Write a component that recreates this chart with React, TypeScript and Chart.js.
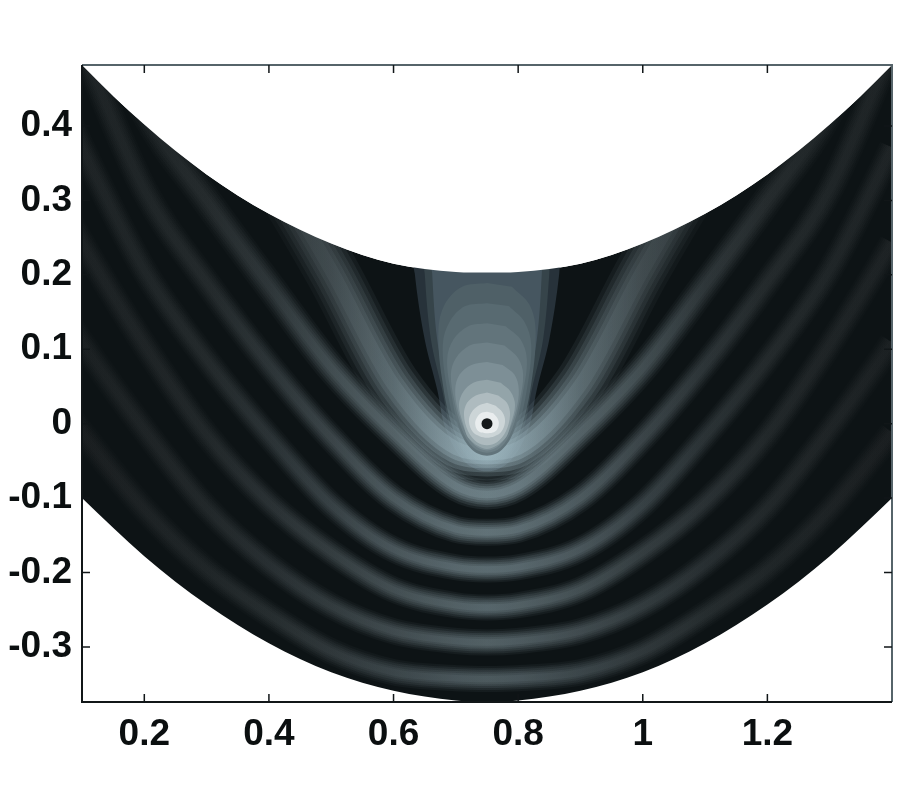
import React, { useEffect, useRef } from "react";
import { Chart, registerables } from "chart.js";

Chart.register(...registerables);

const gridX = [0.02, 0.1, 0.2, 0.3, 0.4, 0.5, 0.6, 0.7, 0.75, 0.8, 0.9, 1.0, 1.1, 1.2, 1.3, 1.4, 1.48];
const xTicks = [0.2, 0.4, 0.6, 0.8, 1, 1.2];
const yTicks = [-0.3, -0.2, -0.1, 0, 0.1, 0.2, 0.3, 0.4];

const upperBoundary = [0.557, 0.482, 0.402, 0.335, 0.282, 0.242, 0.215, 0.204, 0.203, 0.204, 0.215, 0.242, 0.282, 0.335, 0.402, 0.482, 0.557];
const lowerBoundary = [-0.035, -0.1, -0.178, -0.243, -0.295, -0.334, -0.359, -0.372, -0.374, -0.372, -0.359, -0.334, -0.295, -0.243, -0.178, -0.1, -0.035];

const ridge1 = [0.91, 0.77, 0.62, 0.475, 0.347, 0.206, 0.052, -0.033, -0.04, -0.033, 0.052, 0.206, 0.347, 0.475, 0.62, 0.77, 0.91];
const ridge2 = [0.8, 0.622, 0.421, 0.3, 0.186, 0.075, -0.012, -0.084, -0.095, -0.084, -0.012, 0.075, 0.186, 0.3, 0.421, 0.622, 0.8];
const ridge3 = [0.678, 0.508, 0.314, 0.19, 0.079, -0.019, -0.1, -0.142, -0.146, -0.142, -0.1, -0.019, 0.079, 0.19, 0.314, 0.508, 0.678];
const ridge4 = [0.521, 0.371, 0.206, 0.086, -0.017, -0.109, -0.169, -0.193, -0.196, -0.193, -0.169, -0.109, -0.017, 0.086, 0.206, 0.371, 0.521];
const ridge5 = [0.368, 0.243, 0.106, -0.015, -0.106, -0.173, -0.223, -0.244, -0.247, -0.244, -0.223, -0.173, -0.106, -0.015, 0.106, 0.243, 0.368];
const ridge6 = [0.214, 0.109, -0.008, -0.113, -0.189, -0.245, -0.279, -0.292, -0.294, -0.292, -0.279, -0.245, -0.189, -0.113, -0.008, 0.109, 0.214];
const ridge7 = [0.078, -0.012, -0.115, -0.196, -0.256, -0.306, -0.334, -0.342, -0.343, -0.342, -0.334, -0.306, -0.256, -0.196, -0.115, -0.012, 0.078];
const ridges = [ridge1, ridge2, ridge3, ridge4, ridge5, ridge6, ridge7];

const peak1 = [38, 38, 42, 48, 60, 82, 118, 172, 188, 172, 118, 82, 60, 48, 42, 38, 38];
const peak2 = [38, 38, 40, 46, 58, 84, 108, 134, 140, 134, 108, 84, 58, 46, 40, 38, 38];
const peak3 = [38, 38, 40, 44, 56, 74, 98, 120, 126, 120, 98, 74, 56, 44, 40, 38, 38];
const peak4 = [38, 38, 40, 44, 54, 70, 94, 114, 118, 114, 94, 70, 54, 44, 40, 38, 38];
const peak5 = [36, 36, 38, 42, 52, 66, 86, 106, 112, 106, 86, 66, 52, 42, 38, 36, 36];
const peak6 = [34, 34, 38, 42, 50, 64, 82, 100, 106, 100, 82, 64, 50, 42, 38, 34, 34];
const peak7 = [32, 32, 36, 40, 48, 60, 76, 94, 98, 94, 76, 60, 48, 40, 36, 32, 32];
const peaks = [peak1, peak2, peak3, peak4, peak5, peak6, peak7];
const ridgeWidths = [54, 30, 27, 26, 26, 26, 26];

const centerX = 0.75;
const centerY = 0;
const contourDx = [
  [0, 0.116, 0.116, 0.1, 0.08, 0.066, 0.036, 0],
  [0, 0.1, 0.1, 0.09, 0.072, 0.058, 0.032, 0],
  [0, 0.088, 0.088, 0.08, 0.064, 0.052, 0.03, 0],
  [0, 0.04, 0.068, 0.078, 0.072, 0.054, 0.028, 0],
  [0, 0.035, 0.06, 0.071, 0.064, 0.048, 0.025, 0],
  [0, 0.03, 0.054, 0.064, 0.057, 0.044, 0.024, 0],
  [0, 0.028, 0.05, 0.058, 0.052, 0.04, 0.022, 0],
  [0, 0.025, 0.044, 0.051, 0.047, 0.036, 0.02, 0],
  [0, 0.022, 0.038, 0.045, 0.038, 0.028, 0],
  [0, 0.018, 0.032, 0.037, 0.03, 0.016, 0],
  [0, 0.014, 0.025, 0.029, 0.023, 0.012, 0],
  [0, 0.01, 0.017, 0.019, 0.016, 0.009, 0],
];
const contourY = [
  [0.235, 0.235, 0.202, 0.113, 0.046, -0.008, -0.051, -0.064],
  [0.235, 0.235, 0.202, 0.113, 0.046, -0.008, -0.048, -0.059],
  [0.235, 0.235, 0.202, 0.113, 0.046, -0.008, -0.046, -0.055],
  [0.189, 0.184, 0.16, 0.126, 0.059, -0.008, -0.042, -0.051],
  [0.162, 0.158, 0.137, 0.106, 0.046, -0.008, -0.038, -0.046],
  [0.135, 0.131, 0.113, 0.086, 0.039, -0.008, -0.035, -0.043],
  [0.109, 0.105, 0.088, 0.066, 0.029, -0.008, -0.032, -0.039],
  [0.083, 0.079, 0.066, 0.046, 0.019, -0.008, -0.029, -0.036],
  [0.059, 0.055, 0.043, 0.025, -0.001, -0.021, -0.034],
  [0.042, 0.038, 0.028, 0.012, -0.011, -0.025, -0.029],
  [0.028, 0.024, 0.015, 0.003, -0.011, -0.017, -0.019],
  [0.016, 0.014, 0.007, 0, -0.008, -0.012, -0.013],
];
const contourColors = ["#27323a", "#36444a", "#465660", "#4f6067", "#586a71", "#62747b", "#6e8087", "#7d8f96", "#93a4a9", "#aebbbf", "#ccd5d7", "#e9edee"];

const DARK = "#0d1315";
const LAYER_SCALE = [1, 0.85, 0.7, 0.55, 0.4, 0.25];
const LAYER_ALPHA = [0.12, 0.18, 0.25, 0.3, 0.4, 0.5];

function gradientFor(peak: number[], alpha: number) {
  return (ctx: any) => {
    const chart = ctx.chart;
    const area = chart.chartArea;
    const scale = chart.scales.x;
    if (!area || !scale) return "#333";
    const g = chart.ctx.createLinearGradient(area.left, 0, area.right, 0);
    gridX.forEach((x, i) => {
      const t = (scale.getPixelForValue(x) - area.left) / (area.right - area.left);
      const v = peak[i];
      g.addColorStop(Math.min(1, Math.max(0, t)), `rgba(${Math.round(v * 0.86)},${v},${Math.round(v * 1.05)},${alpha})`);
    });
    return g;
  };
}

function pairs(xs: number[], ys: number[]) {
  return xs.map((x, i) => ({ x, y: ys[i] }));
}

function contourPoints(dx: number[], y: number[]) {
  const left = dx.map((d, i) => ({ x: centerX - d, y: y[i] }));
  const right = dx.map((d, i) => ({ x: centerX + d, y: y[i] })).reverse();
  return left.concat(right.slice(1, -1));
}

function buildDatasets() {
  const base = { showLine: true, pointRadius: 0, pointHoverRadius: 0, borderWidth: 0 };
  const paint: any[] = [];
  paint.push({ ...base, data: pairs(gridX, upperBoundary), cubicInterpolationMode: "monotone", fill: "start", backgroundColor: DARK, borderColor: DARK });
  const contour = (i: number) => ({
    ...base,
    data: contourPoints(contourDx[i], contourY[i]),
    tension: 0.35,
    fill: "shape",
    backgroundColor: contourColors[i],
    borderColor: contourColors[i],
  });
  for (let i = 0; i < 5; i++) paint.push(contour(i));
  for (let r = ridges.length - 1; r >= 0; r--) {
    LAYER_SCALE.forEach((s, l) => {
      paint.push({
        ...base,
        data: pairs(gridX, ridges[r]),
        cubicInterpolationMode: "monotone",
        fill: false,
        borderWidth: ridgeWidths[r] * s,
        borderColor: gradientFor(peaks[r], LAYER_ALPHA[l]),
      });
    });
  }
  for (let i = 5; i < contourDx.length; i++) paint.push(contour(i));
  paint.push({ ...base, data: pairs(gridX, upperBoundary), cubicInterpolationMode: "monotone", fill: "end", backgroundColor: "#ffffff", borderColor: "#ffffff" });
  paint.push({ ...base, data: pairs(gridX, lowerBoundary), cubicInterpolationMode: "monotone", fill: "start", backgroundColor: "#ffffff", borderColor: "#ffffff" });
  paint.push({ ...base, showLine: false, data: [{ x: centerX, y: centerY }], pointRadius: 5.5, backgroundColor: "#15191a", borderColor: "#15191a" });
  // Chart.js paints the last dataset first.
  return paint.reverse();
}

const framePlugin = {
  id: "frame",
  afterDatasetsDraw(chart: any) {
    const { ctx, chartArea: a, scales } = chart;
    const LEN = 8;
    ctx.save();
    ctx.lineWidth = 2;
    ctx.strokeStyle = "#56646a";
    ctx.beginPath();
    ctx.moveTo(a.left, a.top);
    ctx.lineTo(a.right, a.top);
    ctx.lineTo(a.right, a.bottom);
    ctx.stroke();
    ctx.strokeStyle = "#111618";
    ctx.beginPath();
    ctx.moveTo(a.left, a.top);
    ctx.lineTo(a.left, a.bottom);
    ctx.lineTo(a.right, a.bottom);
    ctx.stroke();
    ctx.lineWidth = 1.5;
    ctx.beginPath();
    scales.x.ticks.forEach((t: any) => {
      const p = scales.x.getPixelForValue(t.value);
      ctx.moveTo(p, a.bottom);
      ctx.lineTo(p, a.bottom - LEN);
      ctx.moveTo(p, a.top);
      ctx.lineTo(p, a.top + LEN);
    });
    scales.y.ticks.forEach((t: any) => {
      const p = scales.y.getPixelForValue(t.value);
      ctx.moveTo(a.left, p);
      ctx.lineTo(a.left + LEN, p);
      ctx.moveTo(a.right, p);
      ctx.lineTo(a.right - LEN, p);
    });
    ctx.stroke();
    ctx.restore();
  },
};

export default function App() {
  const ref = useRef<HTMLCanvasElement>(null);
  useEffect(() => {
    const font = { family: "'Liberation Sans', Arial, sans-serif", size: 37, weight: "bold" as const };
    const chart = new Chart(ref.current!, {
      type: "scatter",
      data: { datasets: buildDatasets() },
      plugins: [framePlugin],
      options: {
        animation: false,
        responsive: false,
        events: [],
        layout: { padding: { top: 65, right: 8, left: 0, bottom: 0 } },
        plugins: { legend: { display: false }, tooltip: { enabled: false }, filler: { propagate: false } },
        scales: {
          x: {
            type: "linear",
            min: 0.1,
            max: 1.4,
            afterBuildTicks: (s: any) => {
              s.ticks = xTicks.map((value) => ({ value }));
            },
            afterFit: (s: any) => {
              s.height = 98;
            },
            grid: { display: false },
            border: { display: false },
            ticks: { color: "#0b0f10", font, padding: 3, maxRotation: 0, autoSkip: false, callback: (v: any) => String(v) },
          },
          y: {
            type: "linear",
            min: -0.374,
            max: 0.482,
            afterBuildTicks: (s: any) => {
              s.ticks = yTicks.map((value) => ({ value }));
            },
            afterFit: (s: any) => {
              s.width = 82;
            },
            grid: { display: false },
            border: { display: false },
            ticks: { color: "#0b0f10", font, padding: 2, autoSkip: false, callback: (v: any) => String(v) },
          },
        },
      },
    } as any);
    return () => chart.destroy();
  }, []);
  return (
    <div style={{ position: "fixed", left: 0, top: 0, width: 900, height: 800, background: "#fff" }}>
      <canvas ref={ref} width={900} height={800} style={{ display: "block" }} />
    </div>
  );
}
